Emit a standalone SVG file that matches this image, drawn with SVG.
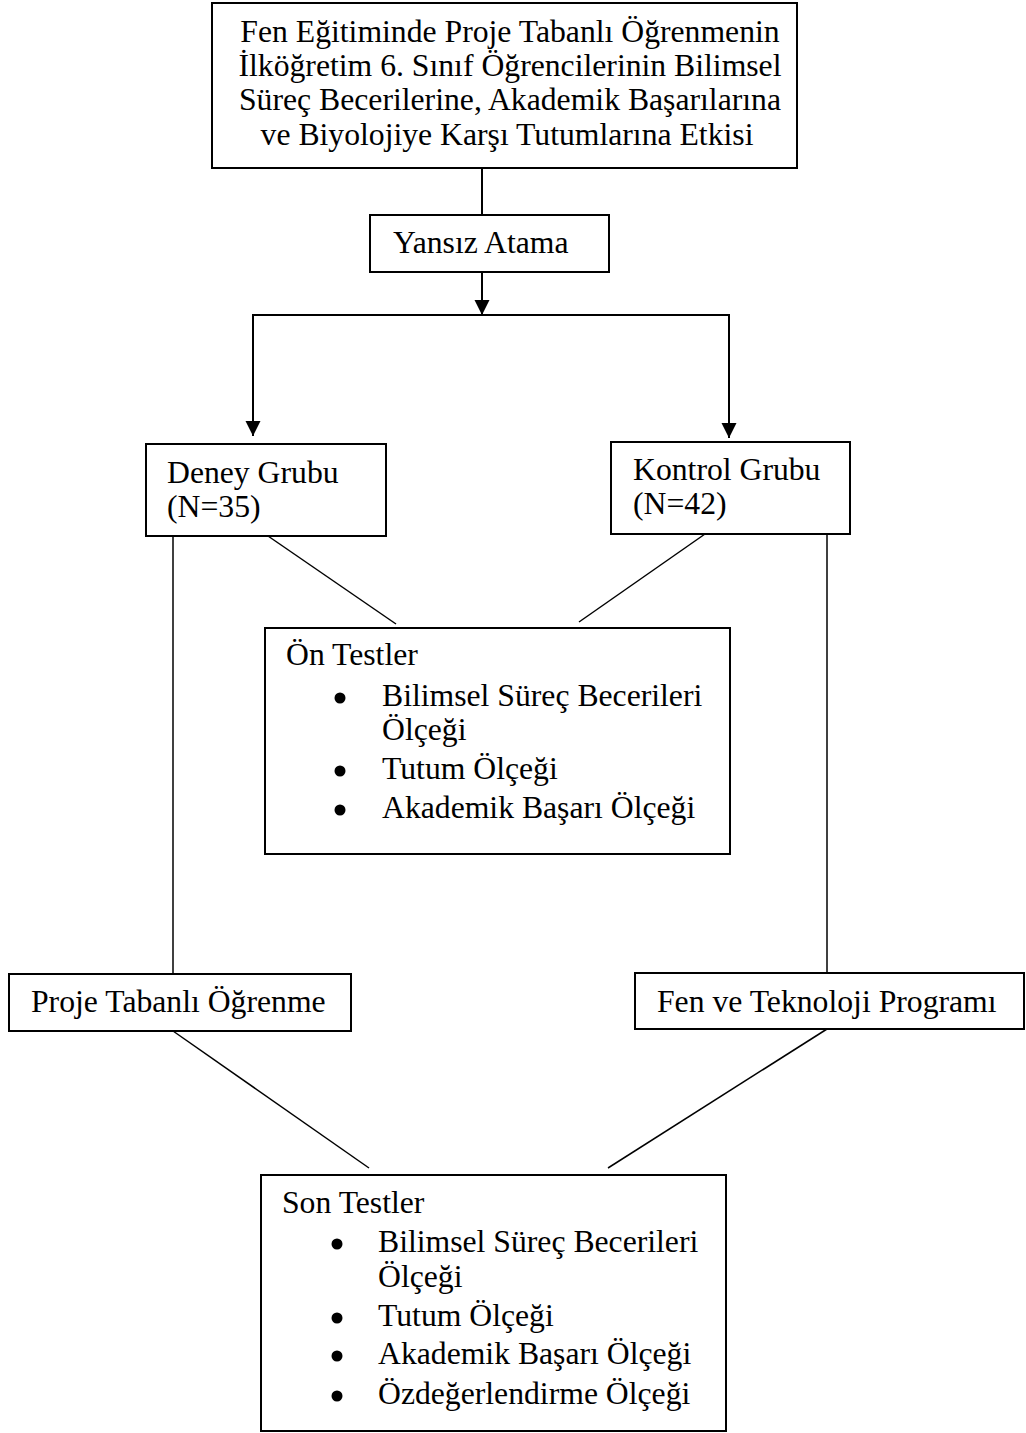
<svg xmlns="http://www.w3.org/2000/svg" width="1026" height="1433" viewBox="0 0 1026 1433">
<style>
.box{fill:#fff;stroke:#000;stroke-width:2}
.t{font-family:"Liberation Serif","Times New Roman",serif;font-size:31.7px;fill:#000}
.c{text-anchor:middle}
.ln{stroke:#000;stroke-width:1.5;fill:none}
.ar{stroke:#000;stroke-width:2;fill:none}
.b{fill:#000}
</style>
<defs>
<marker id="ah" markerUnits="userSpaceOnUse" markerWidth="16" markerHeight="16" refX="15" refY="7.5" orient="auto">
<path d="M0,0 L15,7.5 L0,15 Z" fill="#000"/>
</marker>
</defs>
<rect width="1026" height="1433" fill="#fff"/>
<g id="connectors">
<line class="ar" x1="482" y1="168" x2="482" y2="215"/>
<line class="ar" x1="482" y1="272" x2="482" y2="315" marker-end="url(#ah)"/>
<polyline class="ar" points="253,436 253,315 729,315 729,438" marker-end="url(#ah)"/>
<line class="ar" x1="253" y1="330" x2="253" y2="436" marker-end="url(#ah)"/>
<line class="ln" x1="268" y1="536" x2="396" y2="624"/>
<line class="ln" x1="705" y1="534" x2="579" y2="622"/>
<line class="ln" x1="173" y1="536" x2="173" y2="974"/>
<line class="ln" x1="827" y1="534" x2="827" y2="973"/>
<line class="ln" x1="173" y1="1031" x2="369" y2="1168"/>
<line class="ln" x1="827" y1="1029" x2="608" y2="1168"/>
</g>
<g id="title">
<rect class="box" x="212" y="3" width="585" height="165"/>
<text class="t c" x="510" y="42">Fen Eğitiminde Proje Tabanlı Öğrenmenin</text>
<text class="t c" x="510" y="76">İlköğretim 6. Sınıf Öğrencilerinin Bilimsel</text>
<text class="t c" x="510" y="110">Süreç Becerilerine, Akademik Başarılarına</text>
<text class="t c" x="507" y="145">ve Biyolojiye Karşı Tutumlarına Etkisi</text>
</g>
<g id="yansiz-atama">
<rect class="box" x="370" y="215" width="239" height="57"/>
<text class="t" x="393" y="253">Yansız Atama</text>
</g>
<g id="deney-grubu">
<rect class="box" x="146" y="444" width="240" height="92"/>
<text class="t" x="167" y="483">Deney Grubu</text>
<text class="t" x="167" y="517">(N=35)</text>
</g>
<g id="kontrol-grubu">
<rect class="box" x="611" y="442" width="239" height="92"/>
<text class="t" x="633" y="480">Kontrol Grubu</text>
<text class="t" x="633" y="514">(N=42)</text>
</g>
<g id="on-testler">
<rect class="box" x="265" y="628" width="465" height="226"/>
<text class="t" x="286" y="665">Ön Testler</text>
<circle class="b" cx="340" cy="698" r="5.5"/>
<text class="t" x="382" y="706">Bilimsel Süreç Becerileri</text>
<text class="t" x="382" y="740">Ölçeği</text>
<circle class="b" cx="340" cy="771" r="5.5"/>
<text class="t" x="382" y="779">Tutum Ölçeği</text>
<circle class="b" cx="340" cy="810" r="5.5"/>
<text class="t" x="382" y="818">Akademik Başarı Ölçeği</text>
</g>
<g id="proje-tabanli">
<rect class="box" x="9" y="974" width="342" height="57"/>
<text class="t" x="31" y="1012">Proje Tabanlı Öğrenme</text>
</g>
<g id="fen-teknoloji">
<rect class="box" x="635" y="973" width="389" height="56"/>
<text class="t" x="657" y="1012">Fen ve Teknoloji Programı</text>
</g>
<g id="son-testler">
<rect class="box" x="261" y="1175" width="465" height="256"/>
<text class="t" x="282" y="1213">Son Testler</text>
<circle class="b" cx="337" cy="1244" r="5.5"/>
<text class="t" x="378" y="1252">Bilimsel Süreç Becerileri</text>
<text class="t" x="378" y="1287">Ölçeği</text>
<circle class="b" cx="337" cy="1318" r="5.5"/>
<text class="t" x="378" y="1326">Tutum Ölçeği</text>
<circle class="b" cx="337" cy="1356" r="5.5"/>
<text class="t" x="378" y="1364">Akademik Başarı Ölçeği</text>
<circle class="b" cx="337" cy="1396" r="5.5"/>
<text class="t" x="378" y="1404">Özdeğerlendirme Ölçeği</text>
</g>
</svg>
